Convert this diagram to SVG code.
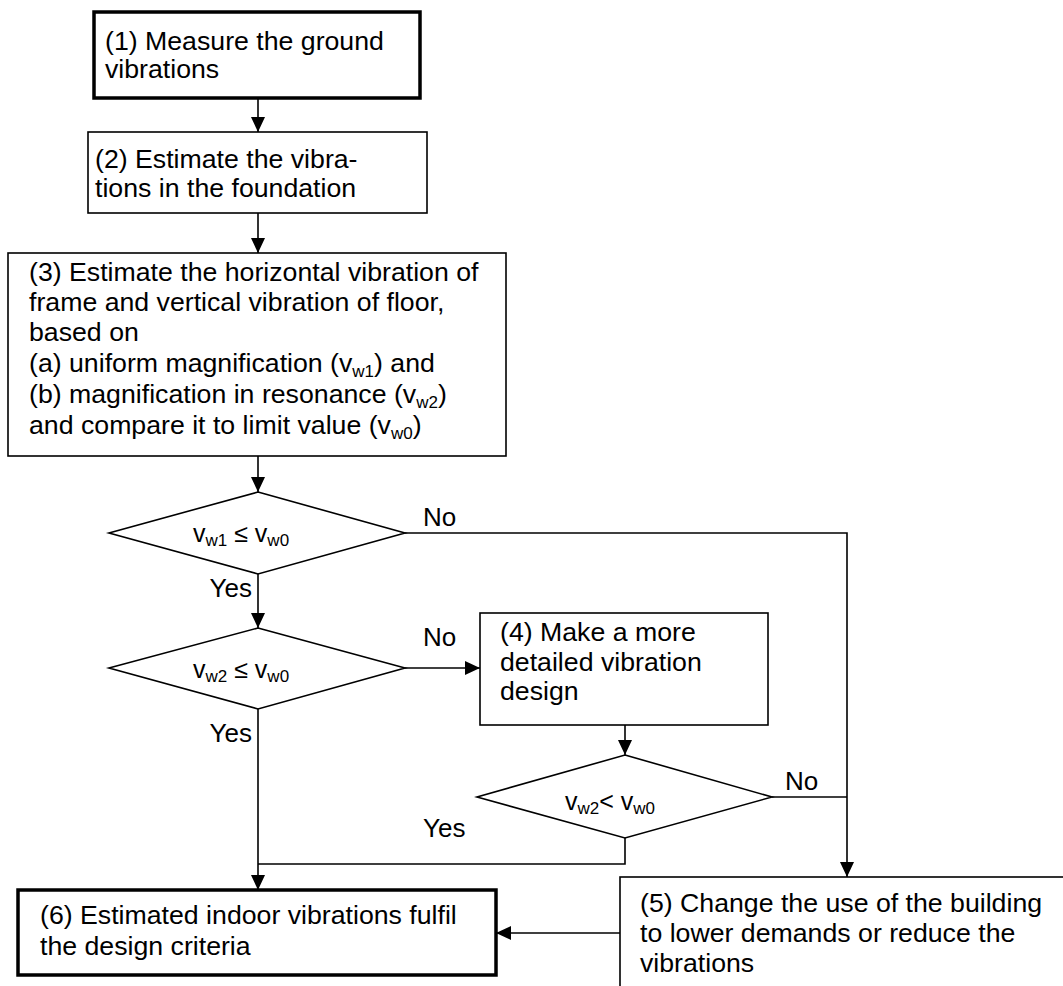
<svg xmlns="http://www.w3.org/2000/svg" width="1063" height="986" viewBox="0 0 1063 986">
<style>
.box{fill:#fff;stroke:#000;stroke-width:1.6}
.thick{stroke-width:3.5}
.t{font-family:"Liberation Sans",Arial,sans-serif;font-size:26.7px;fill:#000}
.l{font-family:"Liberation Sans",Arial,sans-serif;font-size:26px;fill:#000}
.d{font-family:"Liberation Sans",Arial,sans-serif;font-size:25px;fill:#000}
.sub{font-size:17px}
.conn{fill:none;stroke:#000;stroke-width:1.6}
</style>
<defs>
<marker id="arr" markerUnits="userSpaceOnUse" markerWidth="15" markerHeight="14" refX="15" refY="7" orient="auto">
<path d="M0,0 L15,7 L0,14 Z" fill="#000"/>
</marker>
</defs>
<rect width="1063" height="986" fill="#fff"/>
<g id="connectors">
<path class="conn" d="M258,98 V132" marker-end="url(#arr)"/>
<path class="conn" d="M258,213 V253" marker-end="url(#arr)"/>
<path class="conn" d="M258,456 V492" marker-end="url(#arr)"/>
<path class="conn" d="M258,574 V628" marker-end="url(#arr)"/>
<path class="conn" d="M405,533 H847 V877" marker-end="url(#arr)"/>
<path class="conn" d="M405,668 H480" marker-end="url(#arr)"/>
<path class="conn" d="M625,725 V755" marker-end="url(#arr)"/>
<path class="conn" d="M772,797 H847"/>
<path class="conn" d="M258,709 V890" marker-end="url(#arr)"/>
<path class="conn" d="M625,838 V864 H258"/>
<path class="conn" d="M620,933 H496" marker-end="url(#arr)"/>
<text class="l" x="423" y="526">No</text>
<text class="l" x="252" y="597" text-anchor="end">Yes</text>
<text class="l" x="423" y="646">No</text>
<text class="l" x="252" y="742" text-anchor="end">Yes</text>
<text class="l" x="785" y="790">No</text>
<text class="l" x="423" y="837">Yes</text>
</g>
<g id="n1">
<rect class="box thick" x="94" y="12" width="326" height="86"/>
<text class="t" x="105" y="50">(1) Measure the ground</text>
<text class="t" x="105" y="78">vibrations</text>
</g>
<g id="n2">
<rect class="box" x="88" y="132" width="339" height="81"/>
<text class="t" x="95" y="168">(2) Estimate the vibra-</text>
<text class="t" x="95" y="197">tions in the foundation</text>
</g>
<g id="n3">
<rect class="box" x="8" y="253" width="498" height="203"/>
<text class="t" x="29" y="281">(3) Estimate the horizontal vibration of</text>
<text class="t" x="29" y="311">frame and vertical vibration of floor,</text>
<text class="t" x="29" y="341">based on</text>
<text class="t" x="29" y="372">(a) uniform magnification (v<tspan class="sub" dy="5">w1</tspan><tspan dy="-5">) and</tspan></text>
<text class="t" x="29" y="403">(b) magnification in resonance (v<tspan class="sub" dy="5">w2</tspan><tspan dy="-5">)</tspan></text>
<text class="t" x="29" y="434">and compare it to limit value (v<tspan class="sub" dy="5">w0</tspan><tspan dy="-5">)</tspan></text>
</g>
<g id="d1">
<polygon class="box" points="258,492 405,533 258,574 109,533"/>
<text class="d" x="193" y="542">v<tspan class="sub" dy="4">w1</tspan><tspan dy="-4"> ≤ v</tspan><tspan class="sub" dy="4">w0</tspan></text>
</g>
<g id="d2">
<polygon class="box" points="258,628 405,668 258,709 109,668"/>
<text class="d" x="193" y="678">v<tspan class="sub" dy="4">w2</tspan><tspan dy="-4"> ≤ v</tspan><tspan class="sub" dy="4">w0</tspan></text>
</g>
<g id="n4">
<rect class="box" x="480" y="613" width="288" height="112"/>
<text class="t" x="500" y="641">(4) Make a more</text>
<text class="t" x="500" y="671">detailed vibration</text>
<text class="t" x="500" y="700">design</text>
</g>
<g id="d3">
<polygon class="box" points="625,755 772,797 625,838 477,797"/>
<text class="d" x="565" y="810">v<tspan class="sub" dy="4">w2</tspan><tspan dy="-4">&lt; v</tspan><tspan class="sub" dy="4">w0</tspan></text>
</g>
<g id="n5">
<rect class="box" x="620" y="877" width="460" height="130"/>
<text class="t" x="640" y="912">(5) Change the use of the building</text>
<text class="t" x="640" y="942">to lower demands or reduce the</text>
<text class="t" x="640" y="972">vibrations</text>
</g>
<g id="n6">
<rect class="box thick" x="18" y="890" width="478" height="85"/>
<text class="t" x="40" y="924">(6) Estimated indoor vibrations fulfil</text>
<text class="t" x="40" y="955">the design criteria</text>
</g>
</svg>
